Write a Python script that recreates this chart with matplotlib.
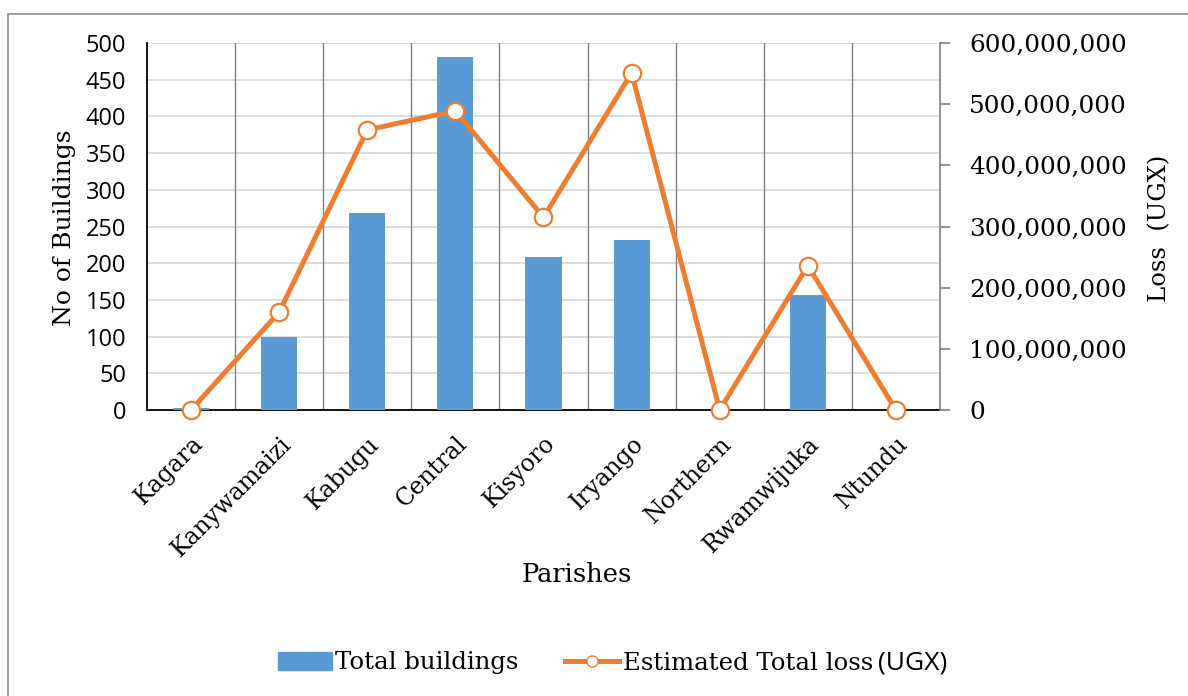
import matplotlib
matplotlib.use("Agg")
import matplotlib.pyplot as plt
from matplotlib.patches import Rectangle
from matplotlib.lines import Line2D
import numpy as np

parishes = ["Kagara", "Kanywamaizi", "Kabugu", "Central", "Kisyoro",
            "Iryango", "Northern", "Rwamwijuka", "Ntundu"]
total_buildings = [3, 100, 269, 481, 209, 232, 0, 157, 0]
estimated_loss = [0, 160_000_000, 458_000_000, 489_000_000, 315_000_000,
                  551_000_000, 0, 236_000_000, 0]
left_ticks = [0, 50, 100, 150, 200, 250, 300, 350, 400, 450, 500]
right_ticks = [0, 100_000_000, 200_000_000, 300_000_000, 400_000_000,
               500_000_000, 600_000_000]

BLUE = "#5B9BD5"
ORANGE = "#ED7D31"
SERIF = ["DejaVu Serif"]
SANS = ["Open Sans", "DejaVu Sans"]

W, H = 1188, 696
fig = plt.figure(figsize=(W / 100, H / 100), dpi=100)
fig.patch.set_facecolor("white")

fig.add_artist(Rectangle((8 / W, -0.01), 1.2, 1 - 14 / H + 0.01,
                         transform=fig.transFigure, fill=False,
                         edgecolor="#8c8c8c", linewidth=1.2))

left, right, top, bottom = 147, 940, 43, 410
ax = fig.add_axes([left / W, 1 - bottom / H, (right - left) / W, (bottom - top) / H])
ax2 = ax.twinx()

x = np.arange(len(parishes))
ax.bar(x, total_buildings, width=0.41, color=BLUE, zorder=3)
ax.set_xlim(-0.5, len(parishes) - 0.5)
ax.set_ylim(0, 500)
ax.set_yticks(left_ticks)
ax.set_yticklabels([str(t) for t in left_ticks], fontfamily=SANS, fontsize=17)
ax.tick_params(axis="y", length=0, pad=15)
for yv in left_ticks[1:]:
    ax.axhline(yv, color="#d9d9d9", linewidth=1.2, zorder=1)
for b in np.arange(0.5, len(parishes) - 1, 1.0):
    ax.axvline(b, color="#7f7f7f", linewidth=1.0, zorder=2)

ax.set_xticks(x)
ax.set_xticklabels(parishes, rotation=45, ha="right", rotation_mode="anchor",
                   fontfamily=SERIF, fontsize=17)
ax.tick_params(axis="x", length=0, pad=16)

for s in ["top", "right"]:
    ax.spines[s].set_visible(False)
ax.spines["left"].set_color("black")
ax.spines["left"].set_linewidth(1.3)
ax.spines["bottom"].set_color("black")
ax.spines["bottom"].set_linewidth(1.3)

ax2.plot(x, estimated_loss, color=ORANGE, linewidth=3.6, marker="o",
         markersize=12.5, markerfacecolor="white", markeredgecolor=ORANGE,
         markeredgewidth=1.6, zorder=5, clip_on=False)
ax2.set_ylim(0, 600_000_000)
ax2.set_yticks(right_ticks)
ax2.set_yticklabels([f"{t:,}" for t in right_ticks], fontfamily=SERIF, fontsize=17.8)
ax2.tick_params(axis="y", length=7, color="#7f7f7f", width=1.2, pad=14)
for s in ["top", "left", "bottom"]:
    ax2.spines[s].set_visible(False)
ax2.spines["right"].set_color("#7f7f7f")
ax2.spines["right"].set_linewidth(1.2)

fig.text(65 / W, 1 - 228 / H, "No of Buildings", rotation=90, ha="center",
         va="center", fontfamily=SERIF, fontsize=18)
fig.text(1160 / W, 1 - 228 / H, "Loss  (UGX)", rotation=90, ha="center",
         va="center", fontfamily=SERIF, fontsize=17.5)
fig.text(577 / W, 1 - 575 / H, "Parishes", ha="center", va="center",
         fontfamily=SERIF, fontsize=18.5)

handles = [Rectangle((0, 0), 1, 1, color=BLUE),
           Line2D([], [], color=ORANGE, linewidth=3.6, marker="o", markersize=8,
                  markerfacecolor="white", markeredgecolor=ORANGE)]
leg = fig.legend(handles, ["Total buildings", "Estimated Total loss"],
                 loc="center left", bbox_to_anchor=(278 / W, 1 - 663 / H), ncol=2,
                 frameon=False, prop={"family": SERIF, "size": 17.6},
                 handlelength=2.2, columnspacing=1.9, handletextpad=0.15,
                 borderpad=0, borderaxespad=0)

fig.canvas.draw()
renderer = fig.canvas.get_renderer()
tb = leg.get_texts()[1].get_window_extent(renderer)
fig.text(tb.x1 / W + 5 / W, (tb.y0 + tb.y1) / 2 / H, "(UGX)", ha="left",
         va="center", fontfamily=SANS, fontsize=19)

fig.savefig("out.png", dpi=100, facecolor="white")
